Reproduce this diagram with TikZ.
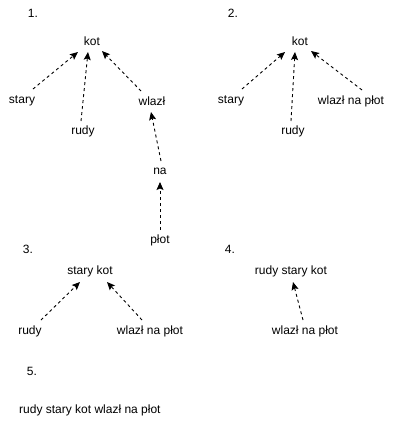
\documentclass[tikz,border=0pt]{standalone}
\usepackage{fontspec}
\setmainfont{Liberation Sans}
\usetikzlibrary{arrows.meta}
\begin{document}
\begin{tikzpicture}[x=1pt,y=-1pt,
  lbl/.style={inner sep=0pt,font=\fontsize{12}{14}\selectfont},
  conn/.style={line width=0.9pt,dash pattern=on 3pt off 3pt,-{Stealth[length=8pt,width=7pt,inset=1.5pt]}}]
\useasboundingbox (0,0) rectangle (411,421);
% 1
\node[lbl] (n1) at (33,13) {1.};
\node[lbl] (k1) at (92,41) {kot};
\node[lbl] (s1) at (22,101) {stary};
\node[lbl] (r1) at (83,131) {rudy};
\node[lbl] (w1) at (152,101) {wlazł};
\node[lbl] (na1) at (160,171) {na};
\node[lbl] (p1) at (160,240) {płot};
\draw[conn] ([shift={(11,-12)}]s1.center) -- ([shift={(-14,11)}]k1.center);
\draw[conn] ([shift={(-2,-10)}]r1.center) -- ([shift={(-4,11)}]k1.center);
\draw[conn] ([shift={(-11,-10)}]w1.center) -- ([shift={(10,10)}]k1.center);
\draw[conn] ([shift={(1,-10)}]na1.center) -- ([shift={(-1,11)}]w1.center);
\draw[conn] ([shift={(0,-10)}]p1.center) -- ([shift={(0,11)}]na1.center);
% 2
\node[lbl] (n2) at (233,13) {2.};
\node[lbl] (k2) at (300,41) {kot};
\node[lbl] (s2) at (231,101) {stary};
\node[lbl] (r2) at (293,131) {rudy};
\node[lbl] (w2) at (351,101) {wlazł na płot};
\draw[conn] ([shift={(11,-12)}]s2.center) -- ([shift={(-15,11)}]k2.center);
\draw[conn] ([shift={(-2,-10)}]r2.center) -- ([shift={(-5,11)}]k2.center);
\draw[conn] ([shift={(11,-11)}]w2.center) -- ([shift={(11,10)}]k2.center);
% 3
\node[lbl] (n3) at (28,249) {3.};
\node[lbl] (k3) at (90,271) {stary kot};
\node[lbl] (r3) at (30,331) {rudy};
\node[lbl] (w3) at (150,331) {wlazł na płot};
\draw[conn] ([shift={(11,-11)}]r3.center) -- ([shift={(-10,11)}]k3.center);
\draw[conn] ([shift={(-8,-11)}]w3.center) -- ([shift={(17,11)}]k3.center);
% 4
\node[lbl] (n4) at (230,249) {4.};
\node[lbl] (k4) at (291,271) {rudy stary kot};
\node[lbl] (w4) at (305,331) {wlazł na płot};
\draw[conn] ([shift={(-2,-11)}]w4.center) -- ([shift={(2,11)}]k4.center);
% 5
\node[lbl] (n5) at (32,371) {5.};
\node[lbl,anchor=west] (t5) at (19,410) {rudy stary kot wlazł na płot};
\end{tikzpicture}
\end{document}
